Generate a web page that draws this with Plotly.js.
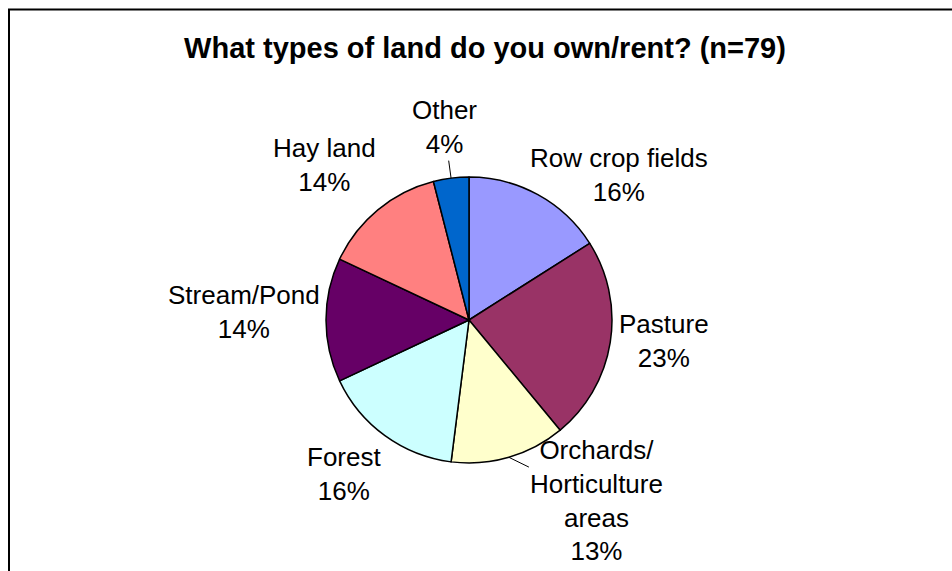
<!DOCTYPE html>
<html>
<head>
<meta charset="utf-8">
<script src="https://cdn.plot.ly/plotly-3.0.1.min.js"></script>
<style>html,body{margin:0;padding:0;background:#fff;}#chart{width:952px;height:571px;}</style>
</head>
<body>
<div id="chart"></div>
<script>
// ---- data ----
var categories = ['Row crop fields', 'Pasture', 'Orchards/Horticulture areas', 'Forest', 'Stream/Pond', 'Hay land', 'Other'];
var labelLines = ['Row crop fields', 'Pasture', 'Orchards/<br>Horticulture<br>areas', 'Forest', 'Stream/Pond', 'Hay land', 'Other'];
var percents = [16, 23, 13, 16, 14, 14, 4];
var chartTitle = 'What types of land do you own/rent? (n=79)';

// ---- style / layout ----
var colors = ['#9999FF', '#993366', '#FFFFCC', '#CCFFFF', '#660066', '#FF8080', '#0066CC'];
var W = 952, H = 571;
var cx = 469, cy = 320, R = 143;           // pie centre and radius in pixels
var labelOffsets = [[81, -20], [54, -1], [88, 43], [-41, 38], [-82, -8], [-53, -45], [-7, -51]];
var leader = [false, false, true, false, false, false, true];

var total = percents.reduce(function (a, b) { return a + b; }, 0);
var annotations = [];
var cum = 0;
for (var i = 0; i < percents.length; i++) {
  var mid = (cum + percents[i] / 2) / total * 2 * Math.PI;
  cum += percents[i];
  var px = cx + R * Math.sin(mid);
  var py = cy - R * Math.cos(mid);
  annotations.push({
    xref: 'paper', yref: 'paper',
    x: px / W, y: 1 - py / H,
    ax: labelOffsets[i][0], ay: labelOffsets[i][1],
    text: labelLines[i] + '<br>' + Math.round(percents[i] / total * 100) + '%',
    showarrow: true, arrowhead: 0, arrowwidth: 1, standoff: 0,
    arrowcolor: leader[i] ? '#000000' : 'rgba(0,0,0,0)',
    font: {family: 'Liberation Sans, Arial, sans-serif', size: 26, color: '#000000'},
    align: 'center'
  });
}

var trace = {
  type: 'pie',
  labels: categories,
  values: percents,
  sort: false,
  direction: 'clockwise',
  rotation: 0,
  textinfo: 'none',
  hoverinfo: 'none',
  showlegend: false,
  marker: {colors: colors, line: {color: '#000000', width: 1.5}},
  domain: {x: [(cx - R) / W, (cx + R) / W], y: [1 - (cy + R) / H, 1 - (cy - R) / H]}
};

var layout = {
  width: W, height: H,
  margin: {l: 0, r: 0, t: 0, b: 0},
  paper_bgcolor: '#ffffff',
  showlegend: false,
  title: {
    text: '<b>' + chartTitle + '</b>',
    x: 485 / W, xanchor: 'center',
    y: 1 - 48 / H, yanchor: 'middle', yref: 'container',
    font: {family: 'Liberation Sans, Arial, sans-serif', size: 29, color: '#000000'}
  },
  shapes: [{
    type: 'rect', xref: 'paper', yref: 'paper',
    x0: 9 / W, x1: 1.05, y0: -0.05, y1: 1 - 9.5 / H,
    line: {color: '#000000', width: 2}, fillcolor: 'rgba(0,0,0,0)'
  }],
  annotations: annotations
};

Plotly.newPlot('chart', [trace], layout, {displayModeBar: false, staticPlot: true});
</script>
</body>
</html>
